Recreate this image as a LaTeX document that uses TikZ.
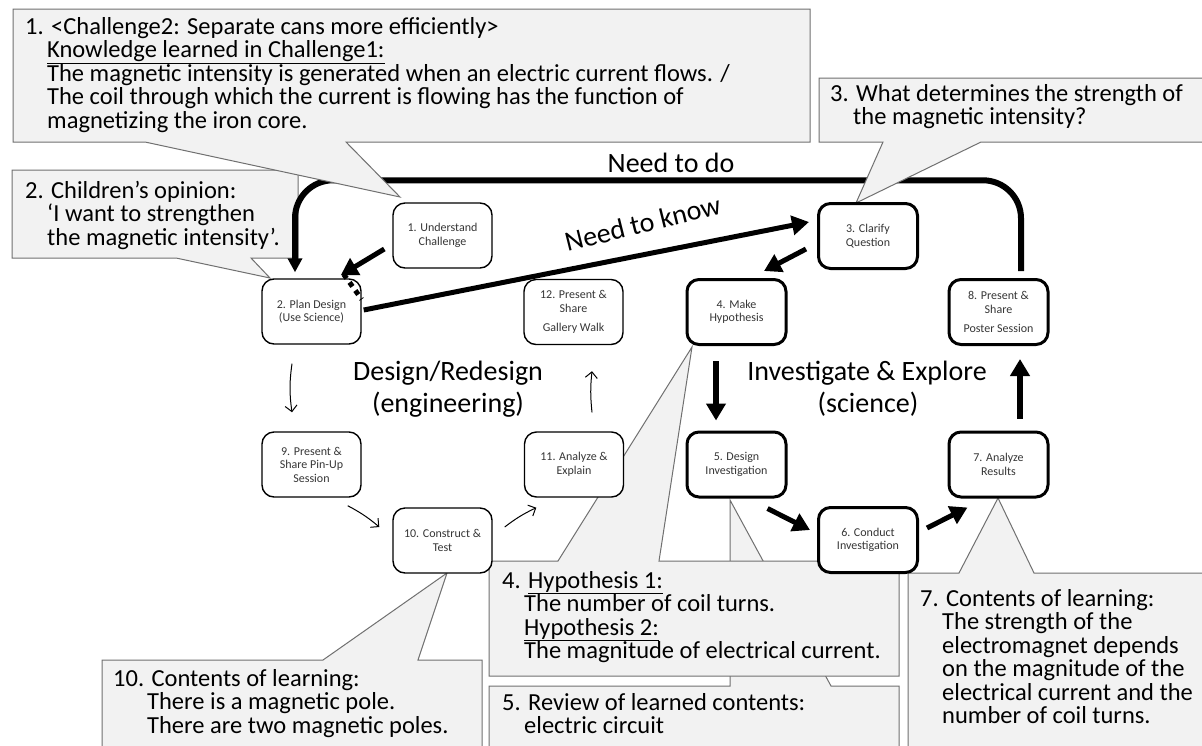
\documentclass[tikz,border=0pt]{standalone}
\usepackage{fontspec}
\setmainfont{Carlito}
\usetikzlibrary{arrows.meta,calc}
\definecolor{cfill}{HTML}{F2F2F2}
\definecolor{cline}{HTML}{707070}
\definecolor{ntext}{HTML}{363636}
\pgfdeclarelayer{back}
\pgfsetlayers{back,main}
\begin{document}
\begin{tikzpicture}[x=1pt,y=-1pt,
  callout/.style={fill=cfill,draw=cline,line width=1pt,line join=miter},
  ctext/.style={anchor=north west,inner sep=0pt,align=left,font=\fontsize{24.5}{23.5}\selectfont},
  engbox/.style={draw,rounded corners=12pt,line width=1.4pt,fill=white,minimum width=99pt,minimum height=65pt,inner sep=0pt,align=center,text=ntext,font=\fontsize{12}{13.5}\selectfont},
  scibox/.style={engbox,line width=3pt},
  bigarrow/.style={line width=5pt,-{Triangle[length=17pt,width=19pt]}},
  loopline/.style={line width=6pt,rounded corners=38pt,-{Triangle[length=14pt,width=14pt]}},
  thinarrow/.style={line width=1pt,-{Straight Barb[length=6pt,width=12pt]}},
  biglabel/.style={anchor=base,inner sep=0pt,font=\fontsize{28}{32}\selectfont}]
\useasboundingbox (0,0) rectangle (1202,745);
\clip (0,0) rectangle (1202,745);

% process nodes
\node[engbox] (N1) at (442.5,235.5) {1. Understand\\Challenge};
\node[engbox] (N2) at (311.5,311.5) {2. Plan Design\\(Use Science)};
\node[scibox] (N3) at (868,236) {3. Clarify\\Question};
\node[scibox] (N4) at (736.5,312) {4. Make\\Hypothesis};
\node[scibox] (N5) at (736.5,464.5) {5. Design\\Investigation};
\node[scibox] (N6) at (868,540) {6. Conduct\\Investigation};
\node[scibox] (N7) at (998.5,464.5) {7. Analyze\\Results};
\node[scibox] (N8) at (998.5,312) {8. Present \&\\Share\\[6pt]Poster Session};
\node[engbox] (N9) at (311.5,464.5) {9. Present \&\\Share Pin-Up\\Session};
\node[engbox] (N10) at (442.5,540.5) {10. Construct \&\\Test};
\node[engbox] (N11) at (574,464.5) {11. Analyze \&\\Explain};
\node[engbox] (N12) at (573.5,312) {12. Present \&\\Share\\[6pt]Gallery Walk};

% callouts and the big loop, underneath the nodes
\begin{pgfonlayer}{back}
\fill[white] (0,0) rectangle (1202,745);
\draw[callout] (12,170) -- (298,170) -- (298,258) -- (251,258) -- (270,278) -- (176,258) -- (12,258) -- cycle;
\draw[loopline] ([shift={(22.5,-7)}]N8.north) |- ([shift={(-16.5,-98)}]N2.north) -- ([shift={(-16.5,-6)}]N2.north);
\draw[callout] (13,9) -- (810,9) -- (810,142) -- (346,142) -- (400,197) -- (145,142) -- (13,142) -- cycle;
\draw[callout] (819,78) -- (1212,78) -- (1212,142) -- (981,142) -- (856,203) -- (883,142) -- (819,142) -- cycle;
\draw[callout] (489,686) -- (730,686) -- (730,500) -- (831,686) -- (899,686) -- (899,760) -- (489,760) -- cycle;
\draw[callout] (489,561) -- (558,561) -- (692,347) -- (659,561) -- (899,561) -- (899,676) -- (489,676) -- cycle;
\draw[callout] (908,573) -- (959,573) -- (998,498) -- (1034,573) -- (1212,573) -- (1212,760) -- (908,760) -- cycle;
\draw[callout] (102,660) -- (323,660) -- (447,573) -- (418,660) -- (482,660) -- (482,760) -- (102,760) -- cycle;
\end{pgfonlayer}

% callout texts
\node[ctext] (T1) at (25,14) {\rule{0pt}{20pt}1. <Challenge2: Separate cans more efficiently>\\
\hspace*{22pt}\underline{Knowledge learned in Challenge1:}\\
\hspace*{22pt}The magnetic intensity is generated when an electric current flows. /\\
\hspace*{22pt}The coil through which the current is flowing has the function of\\
\hspace*{22pt}magnetizing the iron core.};
\node[ctext] (T2) at (25,178) {\rule{0pt}{20pt}2. Children’s opinion:\\
\hspace*{22pt}‘I want to strengthen\\
\hspace*{22pt}the magnetic intensity’.};
\node[ctext] (T3) at (830,81) {\rule{0pt}{20pt}3. What determines the strength of\\
\hspace*{23pt}the magnetic intensity?};
\node[ctext] (T4) at (502,568) {\rule{0pt}{20pt}4. \underline{Hypothesis 1:}\\
\hspace*{22pt}The number of coil turns.\\
\hspace*{22pt}\underline{Hypothesis 2:}\\
\hspace*{22pt}The magnitude of electrical current.};
\node[ctext] (T5) at (502,690) {\rule{0pt}{20pt}5. Review of learned contents:\\
\hspace*{22pt}electric circuit};
\node[ctext] (T10) at (113,666) {\rule{0pt}{20pt}10. Contents of learning:\\
\hspace*{34pt}There is a magnetic pole.\\
\hspace*{34pt}There are two magnetic poles.};
\node[ctext] (T7) at (920,586) {\rule{0pt}{20pt}7. Contents of learning:\\
\hspace*{22pt}The strength of the\\
\hspace*{22pt}electromagnet depends\\
\hspace*{22pt}on the magnitude of the\\
\hspace*{22pt}electrical current and the\\
\hspace*{22pt}number of coil turns.};

% big labels
\node[biglabel] (Ldo) at (671,172) {Need to do};
\node[biglabel,rotate=14] (Lknow) at (645,232.5) {Need to know};
\node[biglabel] (LdesA) at (448,380) {Design/Redesign};
\node[biglabel] (LdesB) at (448,412) {(engineering)};
\node[biglabel] (LinvA) at (867,380) {Investigate \& Explore};
\node[biglabel] (LinvB) at (868,412) {(science)};

% science-side arrows
\draw[bigarrow] ([shift={(-8,13.5)}]N1.west) -- ([shift={(-21,-3)}]N2.north east);
\draw[line width=5pt,dash pattern=on 5pt off 5pt] ([shift={(-18,-4)}]N2.north east) -- ([shift={(0,21)}]N2.north east);
\draw[bigarrow] ([shift={(2,-1.5)}]N2.east) -- ([shift={(-8,-14)}]N3.west);
\draw[bigarrow] ([shift={(-11,13)}]N3.west) -- ([shift={(27.5,-7)}]N4.north);
\draw[bigarrow,line width=6pt] ([shift={(-20.5,15)}]N4.south) -- ([shift={(-20.5,-10)}]N5.north);
\draw[bigarrow] ([shift={(-20,10)}]N5.south east) -- ([shift={(-7,-10)}]N6.west);
\draw[bigarrow] ([shift={(8,-12)}]N6.east) -- ([shift={(20,9)}]N7.south west);
\draw[bigarrow,line width=6pt] ([shift={(21.5,-12)}]N7.north) -- ([shift={(21.5,13)}]N8.south);

% engineering-side arrows
\draw[thinarrow] ([shift={(-19.5,19)}]N2.south) to[bend right=8] ([shift={(-19.5,-19)}]N9.north);
\draw[thinarrow] ([shift={(-14,8)}]N9.south east) to[bend left=6] ([shift={(-13,-13.5)}]N10.west);
\draw[thinarrow] ([shift={(12,-13.5)}]N10.east) to[bend left=6] ([shift={(12.5,10)}]N11.south west);
\draw[thinarrow] ([shift={(18,-19)}]N11.north) to[bend left=6] ([shift={(18.5,26)}]N12.south);
\end{tikzpicture}
\end{document}
